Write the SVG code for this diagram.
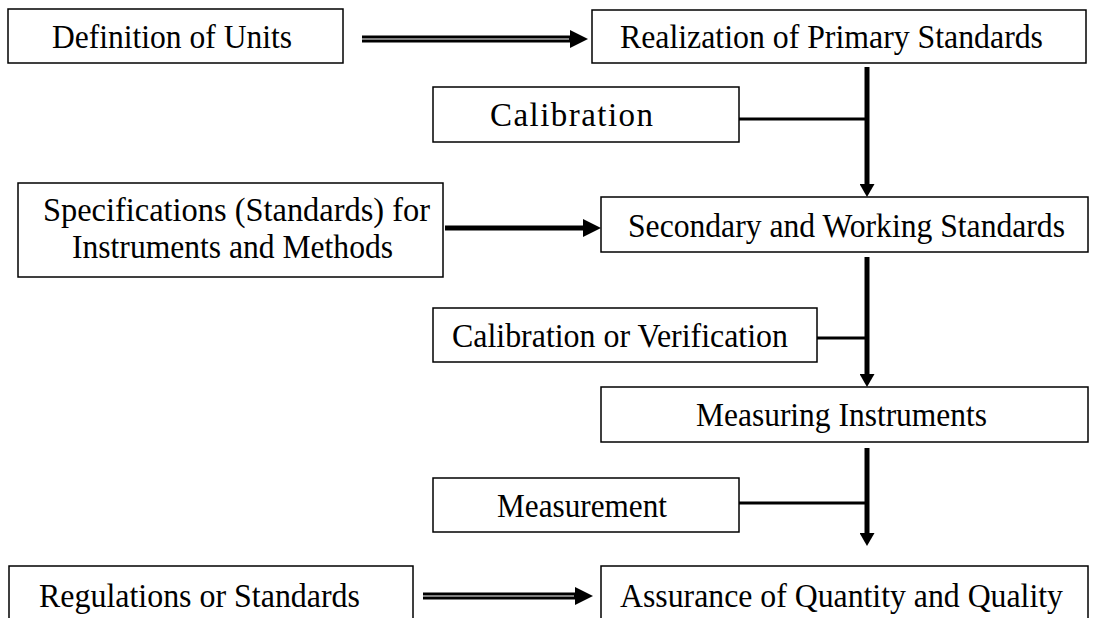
<svg xmlns="http://www.w3.org/2000/svg" width="1093" height="618" viewBox="0 0 1093 618">
  <style>
    .box { fill: #ffffff; stroke: #000000; stroke-width: 1.5; }
    .lbl { font-family: "Liberation Serif", "Times New Roman", serif; font-size: 33px; fill: #000000; }
    .thick { stroke: #000000; stroke-width: 5; fill: none; }
    .branch { stroke: #000000; stroke-width: 3; fill: none; }
    .dbl-outer { stroke: #000000; stroke-width: 7; fill: none; }
    .dbl-inner { stroke: #ffffff; stroke-width: 1; fill: none; }
  </style>
  <defs>
    <marker id="headH" markerUnits="userSpaceOnUse" viewBox="0 0 18 18" markerWidth="18" markerHeight="18" refX="0" refY="9" orient="auto">
      <path d="M0,0 L18,9 L0,18 Z" fill="#000000"/>
    </marker>
    <marker id="headV" markerUnits="userSpaceOnUse" viewBox="0 0 13 15" markerWidth="13" markerHeight="15" refX="0" refY="7.5" orient="auto">
      <path d="M0,0 L13,7.5 L0,15 Z" fill="#000000"/>
    </marker>
  </defs>

  <rect width="1093" height="618" fill="#ffffff"/>

  <g id="connectors">
    <!-- Definition of Units => Realization of Primary Standards (double shaft) -->
    <line class="dbl-outer" x1="362" y1="39" x2="570" y2="39" marker-end="url(#headH)"/>
    <line class="dbl-inner" x1="362" y1="39" x2="569" y2="39"/>
    <!-- Specifications -> Secondary and Working Standards -->
    <line class="thick" x1="445" y1="228" x2="583" y2="228" marker-end="url(#headH)"/>
    <!-- Regulations or Standards => Assurance (double shaft) -->
    <line class="dbl-outer" x1="423" y1="596" x2="575" y2="596" marker-end="url(#headH)"/>
    <line class="dbl-inner" x1="423" y1="596" x2="574" y2="596"/>

    <!-- vertical chain -->
    <line class="thick" x1="867" y1="67" x2="867" y2="184" marker-end="url(#headV)"/>
    <line class="thick" x1="867" y1="257" x2="867" y2="374" marker-end="url(#headV)"/>
    <line class="thick" x1="867" y1="448" x2="867" y2="533" marker-end="url(#headV)"/>

    <!-- process labels joining the chain -->
    <line class="branch" x1="739" y1="119" x2="867" y2="119"/>
    <line class="branch" x1="817" y1="338" x2="867" y2="338"/>
    <line class="branch" x1="739" y1="503" x2="867" y2="503"/>
  </g>

  <g id="definition-of-units">
    <rect class="box" x="8" y="9" width="335" height="54"/>
    <text class="lbl" x="52" y="48" textLength="240" lengthAdjust="spacingAndGlyphs">Definition of Units</text>
  </g>

  <g id="primary-standards">
    <rect class="box" x="592" y="10" width="494" height="53"/>
    <text class="lbl" x="620" y="48" textLength="423" lengthAdjust="spacingAndGlyphs">Realization of Primary Standards</text>
  </g>

  <g id="calibration">
    <rect class="box" x="433" y="87" width="306" height="55"/>
    <text class="lbl" x="490" y="126" textLength="163" lengthAdjust="spacing">Calibration</text>
  </g>

  <g id="specifications">
    <rect class="box" x="18" y="183" width="425" height="94"/>
    <text class="lbl" x="43" y="221" textLength="387" lengthAdjust="spacingAndGlyphs">Specifications (Standards) for</text>
    <text class="lbl" x="72" y="258" textLength="321" lengthAdjust="spacingAndGlyphs">Instruments and Methods</text>
  </g>

  <g id="secondary-standards">
    <rect class="box" x="601" y="197" width="487" height="55"/>
    <text class="lbl" x="628" y="237" textLength="437" lengthAdjust="spacingAndGlyphs">Secondary and Working Standards</text>
  </g>

  <g id="calibration-verification">
    <rect class="box" x="433" y="308" width="384" height="54"/>
    <text class="lbl" x="452" y="347" textLength="336" lengthAdjust="spacingAndGlyphs">Calibration or Verification</text>
  </g>

  <g id="measuring-instruments">
    <rect class="box" x="601" y="387" width="487" height="55"/>
    <text class="lbl" x="696" y="426" textLength="291" lengthAdjust="spacingAndGlyphs">Measuring Instruments</text>
  </g>

  <g id="measurement">
    <rect class="box" x="433" y="478" width="306" height="54"/>
    <text class="lbl" x="497" y="517" textLength="170" lengthAdjust="spacingAndGlyphs">Measurement</text>
  </g>

  <g id="regulations">
    <rect class="box" x="9" y="566" width="404" height="70"/>
    <text class="lbl" x="39" y="607" textLength="321" lengthAdjust="spacingAndGlyphs">Regulations or Standards</text>
  </g>

  <g id="assurance">
    <rect class="box" x="601" y="566" width="487" height="70"/>
    <text class="lbl" x="620" y="607" textLength="443" lengthAdjust="spacingAndGlyphs">Assurance of Quantity and Quality</text>
  </g>
</svg>
